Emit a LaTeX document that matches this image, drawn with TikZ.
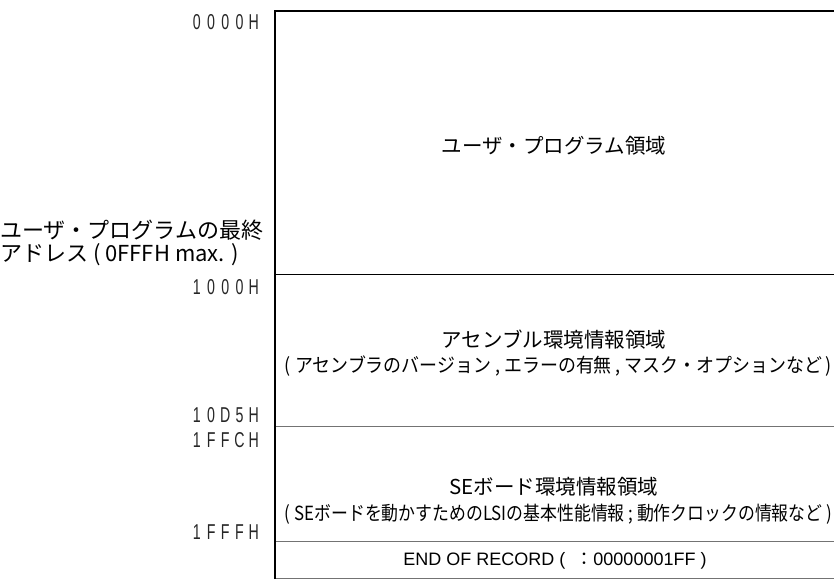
\documentclass[tikz,border=0pt]{standalone}
\usepackage{fontspec}
\setmainfont{Liberation Sans}
\newfontfamily\jp{Noto Sans CJK JP}
\newcommand\hx[1]{\makebox[14.2pt]{\scalebox{0.66}[1]{#1}}}
\begin{document}
\begin{tikzpicture}[x=1pt,y=-1pt,
  addr/.style={anchor=east,inner sep=0pt,font=\fontsize{21.5}{21}\selectfont,text=black!85},
  jt/.style={inner sep=0pt,font=\jp\fontsize{20.5}{24}\selectfont},
  jl/.style={inner sep=0pt,font=\jp\fontsize{22}{24}\selectfont},
  lt/.style={inner sep=0pt,font=\fontsize{18}{22}\selectfont},
  thick line/.style={line width=2pt,black},
  sep line/.style={line width=1pt,black},
  gray line/.style={line width=1.2pt,black!55}]
\useasboundingbox (0,0) rectangle (834,579);
% frame
\coordinate (tl) at (275,10.5);
\coordinate (tr) at (834,10.5);
\coordinate (bl) at (275,579);
\draw[thick line] (bl) -- (tl) -- (tr);
\coordinate (s1l) at (276,274.5); \coordinate (s1r) at (834,274.5);
\coordinate (s2l) at (276,426.5); \coordinate (s2r) at (834,426.5);
\coordinate (s3l) at (276,541.5); \coordinate (s3r) at (834,541.5);
\coordinate (s4l) at (276,578.4); \coordinate (s4r) at (834,578.4);
\draw[sep line] (s1l) -- (s1r);
\draw[gray line] (s2l) -- (s2r);
\draw[gray line] (s3l) -- (s3r);
\draw[gray line] (s4l) -- (s4r);
% addresses
\node[addr] (a0) at (261,22) {\hx0\hx0\hx0\hx0\hx H};
\node[addr] (a1) at (261,287) {\hx1\hx0\hx0\hx0\hx H};
\node[addr] (a2) at (261,415) {\hx1\hx0\hx D\hx5\hx H};
\node[addr] (a3) at (261,440) {\hx1\hx F\hx F\hx C\hx H};
\node[addr] (a4) at (261,532) {\hx1\hx F\hx F\hx F\hx H};
% left label
\node[jl,anchor=west] (l1) at (0,230) {ユーザ・プログラムの最終};
\node[jl,anchor=west] (l2) at (0,255) {アドレス ( 0FFFH max. )};
% regions
\node[jt] (r1) at (554,146) {ユーザ・プログラム領域};
\node[jt] (r2) at (554,340) {アセンブル環境情報領域};
\node[jt] (r2b) at (558.5,366) {\resizebox{547pt}{\height}{\fontsize{19.5}{22}\selectfont( アセンブラのバージョン , エラーの有無 , マスク・オプションなど )}};
\node[jt] (r3) at (554,487) {SEボード環境情報領域};
\node[jt] (r3b) at (558.5,514) {\resizebox{547pt}{\height}{\fontsize{19.5}{22}\selectfont( SEボードを動かすためのLSIの基本性能情報 ; 動作クロックの情報など )}};
\node[lt] (r4) at (555,561) {END OF RECORD (\ \ {\jp ：}00000001FF )};
\end{tikzpicture}
\end{document}
